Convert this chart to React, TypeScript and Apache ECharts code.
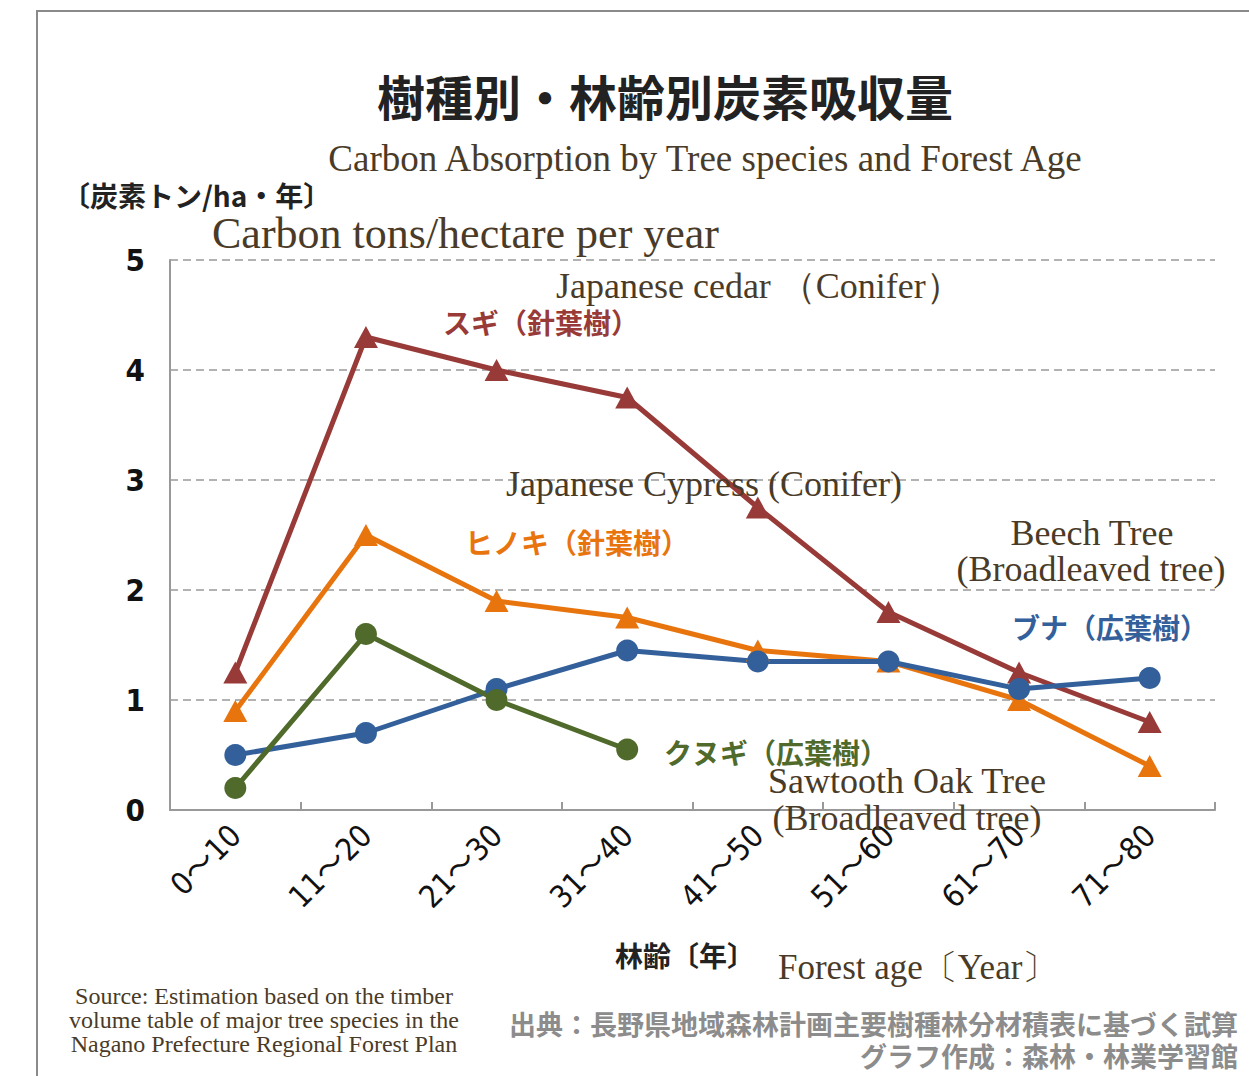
import React, { useEffect, useRef } from "react";
import * as echarts from "echarts";

const categories = ["0〜10", "11〜20", "21〜30", "31〜40", "41〜50", "51〜60", "61〜70", "71〜80"];
const sugi = [1.25, 4.3, 4.0, 3.75, 2.75, 1.8, 1.25, 0.8];
const hinoki = [0.9, 2.5, 1.9, 1.75, 1.45, 1.35, 1.0, 0.4];
const buna = [0.5, 0.7, 1.1, 1.45, 1.35, 1.35, 1.1, 1.2];
const kunugi = [0.2, 1.6, 1.0, 0.55, null, null, null, null];
const yTicks = [0, 1, 2, 3, 4, 5];

const RED = "#983b38";
const ORANGE = "#e8740e";
const BLUE = "#33609a";
const GREEN = "#4f6a2a";
const SERIF_COLOR = "#4a3b28";
const JP = "'Noto Sans CJK JP', sans-serif";
const SERIF = "'Liberation Serif', 'DejaVu Serif', serif";
const NARROW = "'Liberation Sans Narrow', 'DejaVu Sans Condensed', 'Noto Sans CJK JP', sans-serif";

function txt(text: string, x: number, y: number, size: number, family: string, fill: string, align: string = "left", weight: string = "normal") {
  return {
    type: "text",
    x,
    y,
    z: 100,
    style: {
      text,
      fill,
      font: `${weight} ${size}px ${family}`,
      textAlign: align,
      textVerticalAlign: "middle",
    },
  };
}

export default function App() {
  const ref = useRef<HTMLDivElement>(null);
  useEffect(() => {
    if (!ref.current) return;
    const chart = echarts.init(ref.current, undefined, { renderer: "svg" });
    const mkSeries = (name: string, data: any[], color: string, symbol: string, size: any) => ({
      name,
      type: "line",
      data,
      symbol,
      symbolSize: size,
      connectNulls: false,
      lineStyle: { color, width: 5 },
      itemStyle: { color },
    });
    chart.setOption({
      animation: false,
      backgroundColor: "#ffffff",
      grid: { left: 170, right: 34, top: 260, bottom: 266, containLabel: false },
      xAxis: {
        type: "category",
        data: categories,
        boundaryGap: true,
        axisLine: { show: true, lineStyle: { color: "#999", width: 2 } },
        axisTick: { show: true, inside: true, length: 8, lineStyle: { color: "#999", width: 2 } },
        axisLabel: {
          rotate: 45,
          margin: 20,
          fontSize: 31,
          fontFamily: NARROW,
          color: "#111",
          interval: 0,
        },
        splitLine: { show: false },
      },
      yAxis: {
        type: "value",
        min: yTicks[0],
        max: yTicks[yTicks.length - 1],
        interval: 1,
        axisLine: { show: true, lineStyle: { color: "#999", width: 2 } },
        axisTick: { show: false },
        axisLabel: {
          margin: 25,
          fontSize: 31,
          fontWeight: "bold",
          fontFamily: NARROW,
          color: "#111",
        },
        splitLine: { show: true, lineStyle: { color: "#999", width: 1.5, type: [8, 5] } },
      },
      series: [
        mkSeries("スギ", sugi, RED, "triangle", [24, 22]),
        mkSeries("ヒノキ", hinoki, ORANGE, "triangle", [24, 22]),
        mkSeries("ブナ", buna, BLUE, "circle", 22),
        mkSeries("クヌギ", kunugi, GREEN, "circle", 22),
      ],
      graphic: [
        { type: "line", shape: { x1: 36, y1: 11, x2: 1249, y2: 11 }, style: { stroke: "#8a8a8a", lineWidth: 2 } },
        { type: "line", shape: { x1: 37, y1: 10, x2: 37, y2: 1076 }, style: { stroke: "#8a8a8a", lineWidth: 2 } },
        txt("樹種別・林齢別炭素吸収量", 665, 95, 48, JP, "#222", "center", "bold"),
        txt("Carbon Absorption by Tree species and Forest Age", 705, 158, 37, SERIF, SERIF_COLOR, "center"),
        txt("〔炭素トン/ha・年〕", 62, 195, 28, JP, "#222", "left", "bold"),
        txt("Carbon tons/hectare per year", 212, 233, 44, SERIF, SERIF_COLOR, "left"),
        txt("Japanese cedar （Conifer）", 556, 286, 36, SERIF, SERIF_COLOR, "left"),
        txt("スギ（針葉樹）", 443, 322, 28, JP, RED, "left", "bold"),
        txt("Japanese Cypress (Conifer)", 506, 484, 36, SERIF, SERIF_COLOR, "left"),
        txt("ヒノキ（針葉樹）", 465, 542, 28, JP, ORANGE, "left", "bold"),
        txt("Beech Tree", 1092, 533, 36, SERIF, SERIF_COLOR, "center"),
        txt("(Broadleaved tree)", 1091, 569, 36, SERIF, SERIF_COLOR, "center"),
        txt("ブナ（広葉樹）", 1012, 627, 28, JP, BLUE, "left", "bold"),
        txt("クヌギ（広葉樹）", 664, 752, 28, JP, GREEN, "left", "bold"),
        txt("Sawtooth Oak Tree", 907, 781, 36, SERIF, SERIF_COLOR, "center"),
        txt("(Broadleaved tree)", 907, 818, 36, SERIF, SERIF_COLOR, "center"),
        txt("林齢〔年〕", 615, 955, 28, JP, "#222", "left", "bold"),
        txt("Forest age〔Year〕", 778, 967, 35, SERIF, SERIF_COLOR, "left"),
        txt("Source: Estimation based on the timber", 264, 996, 24, SERIF, SERIF_COLOR, "center"),
        txt("volume table of major tree species in the", 264, 1020, 24, SERIF, SERIF_COLOR, "center"),
        txt("Nagano Prefecture Regional Forest Plan", 264, 1044, 24, SERIF, SERIF_COLOR, "center"),
        txt("出典：長野県地域森林計画主要樹種林分材積表に基づく試算", 1238, 1023, 27, JP, "#8c8c8c", "right", "bold"),
        txt("グラフ作成：森林・林業学習館", 1238, 1055, 27, JP, "#8c8c8c", "right", "bold"),
      ],
    });
    return () => chart.dispose();
  }, []);
  return (
    <div
      ref={ref}
      style={{ position: "fixed", left: 0, top: 0, width: 1249, height: 1076, background: "#fff" }}
    />
  );
}
